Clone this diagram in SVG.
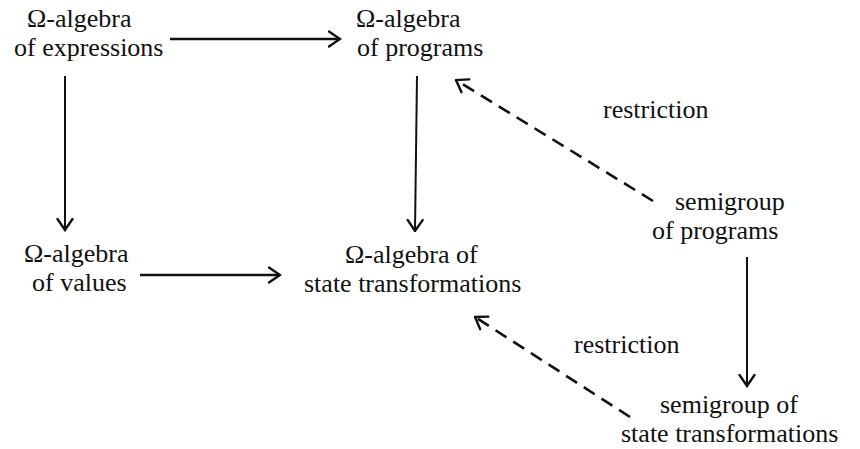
<svg xmlns="http://www.w3.org/2000/svg" width="860" height="449" viewBox="0 0 860 449">
<style>
text{font-family:"Liberation Serif","Times New Roman",serif;font-size:26px;fill:#111}
.a{stroke:#111;fill:none;stroke-width:2;marker-end:url(#h)}
.b{stroke-width:2.4}
.d{stroke-dasharray:13 8;stroke-width:2.6}
</style>
<defs>
<marker id="h" markerUnits="userSpaceOnUse" viewBox="0 0 14 18" markerWidth="14" markerHeight="18" refX="12.5" refY="9" orient="auto">
<path d="M1.5,1.5 L12.5,9 L1.5,16.5" fill="none" stroke="#111" stroke-width="2.4" stroke-linecap="round" stroke-linejoin="miter"/>
</marker>
</defs>
<rect width="860" height="449" fill="#fff"/>
<g id="connectors">
<line class="a b" x1="170" y1="39" x2="340" y2="39"/>
<line class="a b" x1="140" y1="275" x2="280" y2="275"/>
<line class="a" x1="65" y1="76" x2="65" y2="230"/>
<line class="a" x1="417" y1="76" x2="415" y2="231"/>
<line class="a" x1="747" y1="257" x2="747" y2="386"/>
<line class="a d" x1="653" y1="201" x2="456" y2="80"/>
<line class="a d" x1="630" y1="417" x2="475" y2="317"/>
</g>
<g id="expressions"><text x="27" y="27">Ω-algebra</text><text x="14" y="56">of expressions</text></g>
<g id="programs"><text x="356" y="27">Ω-algebra</text><text x="357" y="56">of programs</text></g>
<g id="values"><text x="24" y="262">Ω-algebra</text><text x="32" y="291">of values</text></g>
<g id="state"><text x="345" y="263">Ω-algebra of</text><text x="304" y="292">state transformations</text></g>
<g id="semigroup-programs"><text x="675" y="210">semigroup</text><text x="652" y="239">of programs</text></g>
<g id="semigroup-state"><text x="660" y="413">semigroup of</text><text x="621" y="442">state transformations</text></g>
<g id="labels"><text x="603" y="118">restriction</text><text x="574" y="353">restriction</text></g>
</svg>
